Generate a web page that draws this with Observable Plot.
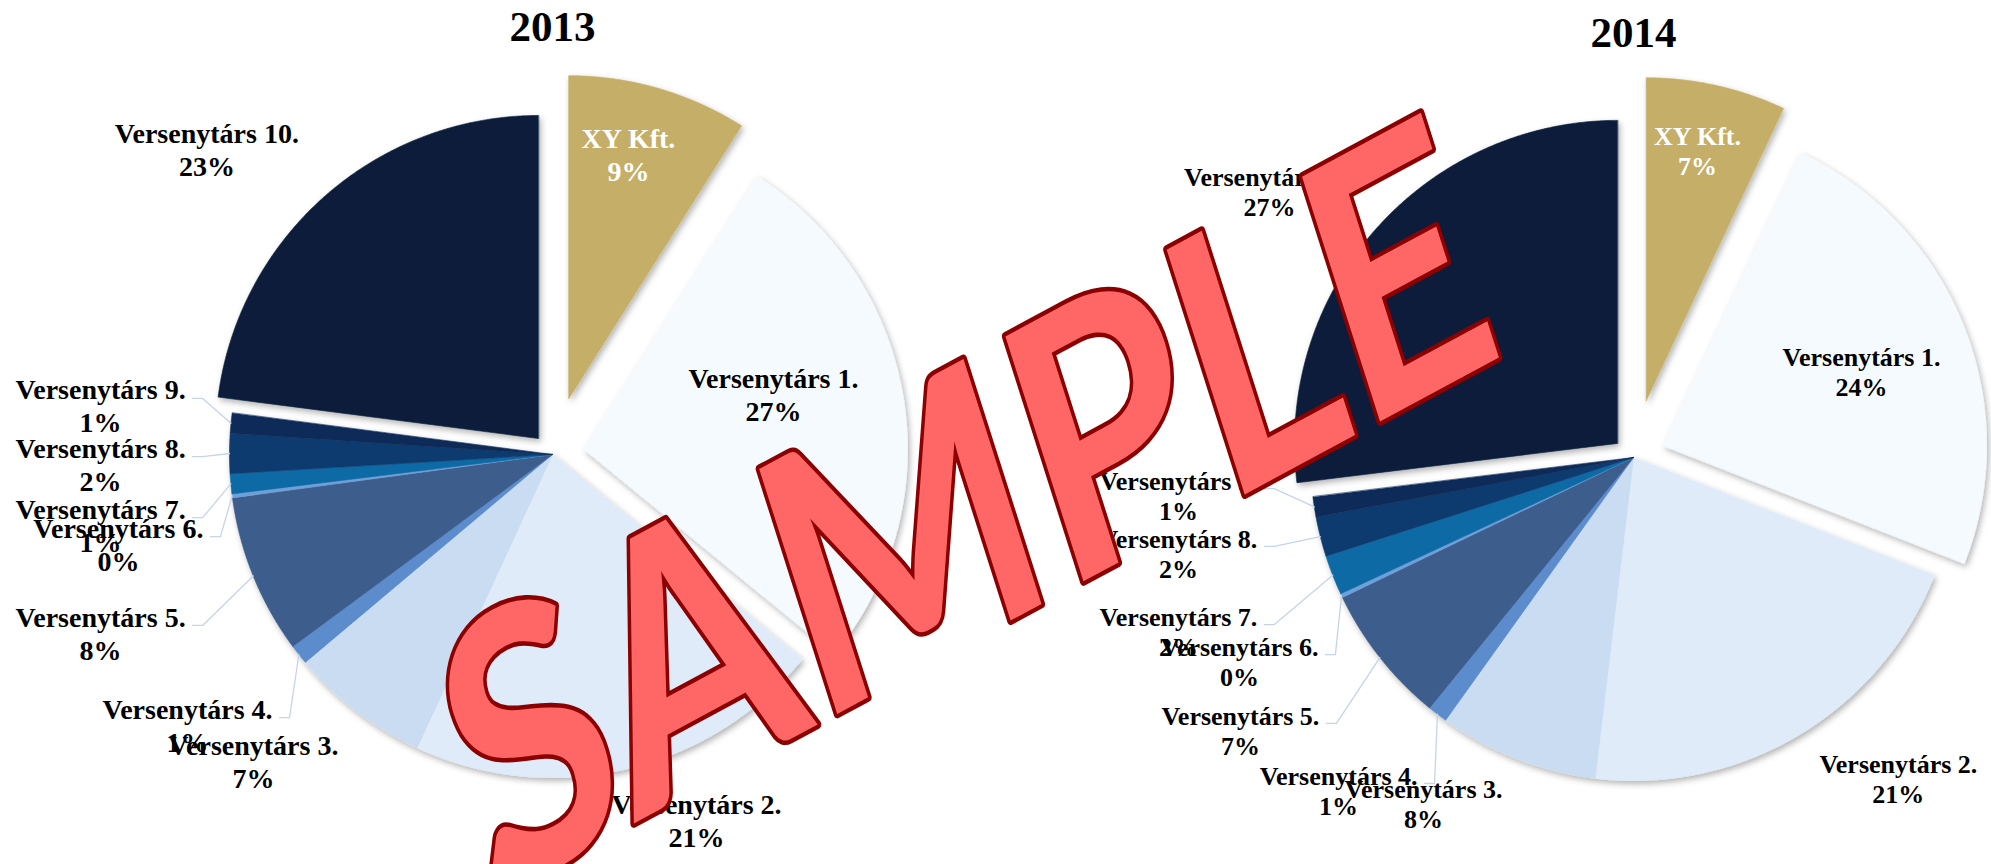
<!DOCTYPE html>
<html>
<head>
<meta charset="utf-8">
<script src="https://cdn.jsdelivr.net/npm/d3@7"></script>
<script src="https://cdn.jsdelivr.net/npm/@observablehq/plot@0.6"></script>
<style>
  html, body { margin: 0; padding: 0; background: #ffffff; }
  #wrap { position: relative; width: 1991px; height: 864px; overflow: hidden; }
  #row { display: flex; flex-direction: row; }
  #overlay { position: absolute; left: 0; top: 0; pointer-events: none; }
</style>
</head>
<body>
<div id="wrap"><div id="row"></div><div id="overlay"></div></div>
<script>
// ---------- data ----------
const categories = ["XY Kft.", "Versenytárs 1.", "Versenytárs 2.", "Versenytárs 3.", "Versenytárs 4.",
  "Versenytárs 5.", "Versenytárs 6.", "Versenytárs 7.", "Versenytárs 8.", "Versenytárs 9.", "Versenytárs 10."];
const years = ["2013", "2014"];
const values2013 = [9, 27, 21, 7, 1, 8, 0.2, 1, 2, 1, 23];
const values2014 = [7, 24, 21, 8, 1, 7, 0.2, 2, 2, 1, 27];

// ---------- styles / layout ----------
const sliceColors = ["#C4AE68", "#F5FAFE", "#DFEBF8", "#C9DCF1", "#5B8CCB", "#3C5D8C",
  "#6FA0DA", "#0B6AA5", "#0A3B6F", "#0C2C58", "#091F3A"];
const explodeFrac = [0.18, 0.10, 0, 0, 0, 0, 0, 0, 0, 0, 0.066];
const leaderIdx = [4, 5, 6, 7, 8, 9];
// label anchor offsets in pie-radius units (x right, y down)
const labelPos2013 = [[0.235, -0.93], [0.684, -0.189], [0.446, 1.130], [-0.926, 0.950], [-1.130, 0.836],
  [-1.399, 0.551], [-1.344, 0.276], [-1.399, 0.217], [-1.399, 0.028], [-1.399, -0.152], [-1.07, -0.947]];
const labelPos2014 = [[0.198, -0.950], [0.706, -0.266], [0.820, 0.994], [-0.650, 1.071], [-0.913, 1.031],
  [-1.217, 0.845], [-1.220, 0.632], [-1.409, 0.539], [-1.409, 0.297], [-1.409, 0.118], [-1.127, -0.824]];

const R = 323;          // pie radius in px
const H = 864;
const serif = "Liberation Serif, Times New Roman, serif";

const measureCtx = document.createElement("canvas").getContext("2d");
function textWidth(str, size) {
  measureCtx.font = `bold ${size}px "Liberation Serif"`;
  return measureCtx.measureText(str).width;
}

function pieChart(cfg) {
  const {year, values, width, cx, cy, labelPos, fontSize, lineHeight, titleDy} = cfg;
  const total = d3.sum(values);
  const arcs = d3.pie().sort(null)(values);

  // slice outlines (unit radius, y up)
  const slices = [];
  arcs.forEach((a, i) => {
    const name = categories[i];
    const e = explodeFrac[i];
    const m = (a.startAngle + a.endAngle) / 2;
    const ox = e * Math.sin(m), oy = e * Math.cos(m);
    slices.push({name, x: ox, y: oy});
    const n = Math.max(2, Math.ceil((a.endAngle - a.startAngle) / (Math.PI / 720)));
    for (let k = 0; k <= n; k++) {
      const t = a.startAngle + (a.endAngle - a.startAngle) * k / n;
      slices.push({name, x: ox + Math.sin(t), y: oy + Math.cos(t)});
    }
  });

  const labels = categories.map((c, i) => ({
    text: `${c}\n${Math.round(values[i] / total * 100)}%`,
    x: labelPos[i][0],
    y: -labelPos[i][1],
    light: i === 0
  }));

  const leaders = [];
  leaderIdx.forEach(i => {
    const a = arcs[i];
    const m = (a.startAngle + a.endAngle) / 2;
    const w = textWidth(categories[i], fontSize);
    const x0 = labels[i].x + (w / 2 + 7) / R;
    const y0 = labels[i].y + 7 / R;
    leaders.push({id: i, x: x0, y: y0});
    leaders.push({id: i, x: x0 + 10 / R, y: y0});
    leaders.push({id: i, x: Math.sin(m), y: Math.cos(m)});
  });

  const textOpts = {
    x: "x", y: "y", text: "text", textAnchor: "middle", lineAnchor: "middle",
    fontFamily: serif, fontWeight: "bold", fontSize, lineHeight
  };

  const svg = Plot.plot({
    width, height: H, margin: 0,
    x: {domain: [-cx / R, (width - cx) / R], axis: null},
    y: {domain: [-(H - cy) / R, cy / R], axis: null},
    color: {domain: categories, range: sliceColors},
    style: {background: "transparent"},
    marks: [
      Plot.line(slices, {x: "x", y: "y", z: "name", fill: "name", stroke: "name", strokeWidth: 0.6,
        curve: "linear-closed"}),
      Plot.line(leaders, {x: "x", y: "y", z: "id", stroke: "#C6D3E8", strokeWidth: 1.3}),
      Plot.text(labels.filter(d => !d.light), {...textOpts, fill: "#000000"}),
      Plot.text(labels.filter(d => d.light), {...textOpts, fill: "#ffffff"}),
      Plot.text([{t: year}], {x: () => 0, text: "t", frameAnchor: "top", dy: titleDy, lineAnchor: "middle",
        textAnchor: "middle", fontFamily: serif, fontWeight: "bold", fontSize: 43, fill: "#000000"})
    ]
  });

  const sel = d3.select(svg);
  const fid = "shadow" + year;
  sel.insert("defs", ":first-child")
    .append("filter").attr("id", fid).attr("x", "-10%").attr("y", "-10%").attr("width", "125%").attr("height", "125%")
    .append("feDropShadow").attr("dx", 2).attr("dy", 3).attr("stdDeviation", 3)
    .attr("flood-color", "#000").attr("flood-opacity", 0.3);
  sel.select('g[aria-label="line"]').attr("filter", `url(#${fid})`);
  return svg;
}

const row = document.getElementById("row");
row.appendChild(pieChart({year: years[0], values: values2013, width: 1000, cx: 552, cy: 454,
  labelPos: labelPos2013, fontSize: 28, lineHeight: 1.18, titleDy: 27}));
row.appendChild(pieChart({year: years[1], values: values2014, width: 991, cx: 633, cy: 457,
  labelPos: labelPos2014, fontSize: 26, lineHeight: 1.15, titleDy: 33}));

// watermark overlay
const wm = Plot.plot({
  width: 1991, height: H, margin: 0,
  style: {background: "transparent"},
  marks: [
    Plot.text(["SAMPLE"], {frameAnchor: "middle", dx: -28, dy: 84, rotate: -22.5,
      fontSize: 282, fontFamily: "Lato, Open Sans, sans-serif", fontWeight: "bold",
      fill: "#FF6666", stroke: "#8B0000", strokeWidth: 7, paintOrder: "stroke", lineAnchor: "middle"})
  ]
});
d3.select(wm).selectAll("text").each(function() {
  const t = this.getAttribute("transform");
  if (t) this.setAttribute("transform", t.replace(/rotate\(([^)]+)\)/, "scale(1,1.3) rotate($1)"));
});
document.getElementById("overlay").appendChild(wm);
</script>
</body>
</html>
